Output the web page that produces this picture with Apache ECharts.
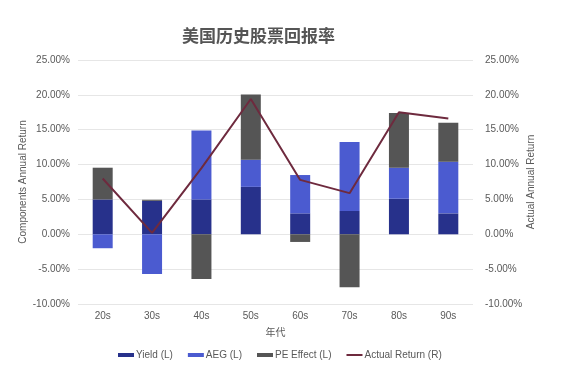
<!DOCTYPE html>
<html>
<head>
<meta charset="utf-8">
<script src="https://cdn.jsdelivr.net/npm/echarts@6/dist/echarts.min.js"></script>
<style>html,body{margin:0;padding:0;background:#fff}#c{width:576px;height:370px}</style>
</head>
<body>
<div id="c"></div>
<script>
const categories = ['20s','30s','40s','50s','60s','70s','80s','90s'];
const yieldVals = [5.0, 4.8, 5.0, 6.8, 3.0, 3.35, 5.1, 3.0];
const aegVals = [-2.0, -5.7, 9.9, 3.9, 5.5, 9.9, 4.45, 7.4];
const peVals = [4.55, 0.15, -6.4, 9.35, -1.1, -7.6, 7.85, 5.6];
const actualVals = [8.0, 0.2, 9.5, 19.4, 7.8, 5.9, 17.5, 16.6];
const tickFmt = v => v.toFixed(2) + '%';

const chart = echarts.init(document.getElementById('c'));
const txt = '#595959';
const font = 'Liberation Sans, Arial, sans-serif';
chart.setOption({
  animation: false,
  title: {
    text: '美国历史股票回报率', left: 177, top: 22,
    textStyle: {fontSize: 17, fontWeight: 'bold', color: '#555', fontFamily: 'Noto Sans CJK SC'}
  },
  grid: {left: 78, right: 103, top: 60, bottom: 66},
  legend: {
    bottom: 5, left: 113, itemWidth: 16, itemHeight: 4, itemGap: 15,
    textStyle: {fontSize: 10, color: txt, fontFamily: font, padding: [0,0,0,-3]},
    data: [
      {name: 'Yield (L)', icon: 'rect'},
      {name: 'AEG (L)', icon: 'rect'},
      {name: 'PE Effect (L)', icon: 'rect'},
      {name: 'Actual Return (R)', icon: 'path://M0,0L16,0L16,2L0,2Z'}
    ]
  },
  xAxis: {
    type: 'category', data: categories,
    name: '年代', nameLocation: 'middle', nameGap: 23,
    nameTextStyle: {fontSize: 10, color: txt, fontFamily: 'Noto Sans CJK SC'},
    axisLine: {show: false}, axisTick: {show: false},
    axisLabel: {fontSize: 10, color: txt, fontFamily: font, margin: 7}
  },
  yAxis: [
    {
      type: 'value', min: -10, max: 25, interval: 5, position: 'left',
      name: 'Components Annual Return', nameLocation: 'middle', nameGap: 50,
      nameMoveOverlap: false,
      nameTextStyle: {fontSize: 10, color: txt, fontFamily: font},
      axisLine: {show: false}, axisTick: {show: false},
      axisLabel: {fontSize: 10, color: txt, fontFamily: font, formatter: tickFmt, margin: 8},
      splitLine: {lineStyle: {color: '#e6e6e6'}}
    },
    {
      type: 'value', min: -10, max: 25, interval: 5, position: 'right',
      name: 'Actual Annual Return', nameLocation: 'middle', nameGap: 53,
      nameMoveOverlap: false,
      nameTextStyle: {fontSize: 10, color: txt, fontFamily: font},
      axisLine: {show: false}, axisTick: {show: false},
      axisLabel: {fontSize: 10, color: txt, fontFamily: font, formatter: tickFmt, margin: 12},
      splitLine: {show: false}
    }
  ],
  series: [
    {name: 'Yield (L)', type: 'bar', stack: 'c', barWidth: 20, data: yieldVals, itemStyle: {color: '#27318b'}},
    {name: 'AEG (L)', type: 'bar', stack: 'c', barWidth: 20, data: aegVals, itemStyle: {color: '#4b5bd0'}},
    {name: 'PE Effect (L)', type: 'bar', stack: 'c', barWidth: 20, data: peVals, itemStyle: {color: '#555555'}},
    {name: 'Actual Return (R)', type: 'line', yAxisIndex: 1, data: actualVals, symbol: 'none',
     lineStyle: {color: '#6e2a3e', width: 2}, itemStyle: {color: '#6e2a3e'}}
  ]
});
</script>
</body>
</html>
